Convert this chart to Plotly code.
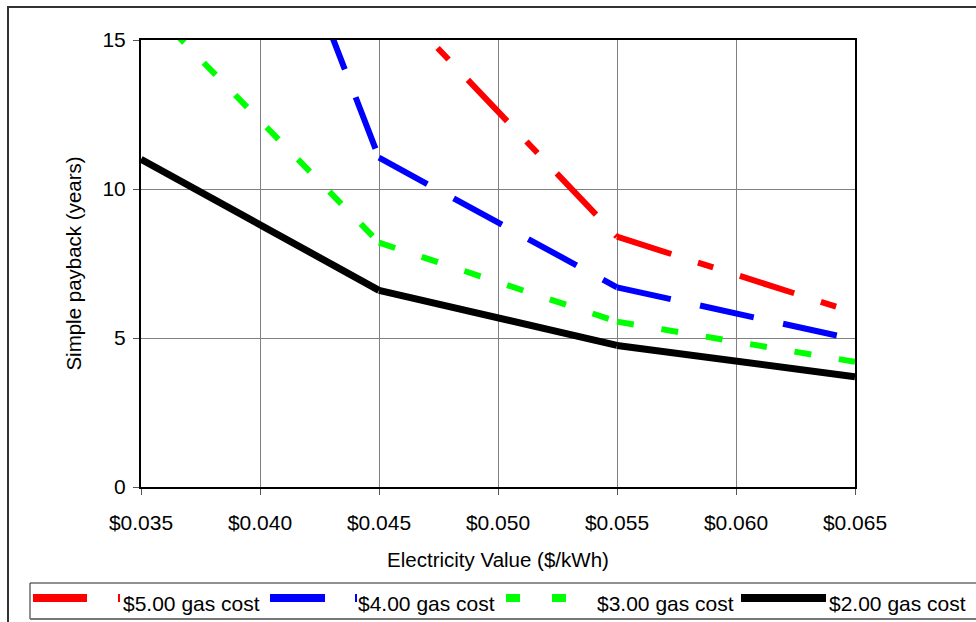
import plotly.graph_objects as go

# ---- data ----
electricity = [0.035, 0.045, 0.055, 0.065]
gas_5 = [200.0, 16.8, 8.4, 5.85]
gas_4 = [31.7, 11.05, 6.7, 4.95]
gas_3 = [16.4, 8.2, 5.55, 4.2]
gas_2 = [11.0, 6.6, 4.75, 3.7]
series_names = ["$5.00 gas cost", "$4.00 gas cost", "$3.00 gas cost", "$2.00 gas cost"]
x_ticks = [0.035, 0.040, 0.045, 0.050, 0.055, 0.060, 0.065]
x_tick_labels = ["$0.035", "$0.040", "$0.045", "$0.050", "$0.055", "$0.060", "$0.065"]
y_ticks = [0, 5, 10, 15]

series = [gas_5, gas_4, gas_3, gas_2]
colors = ["#FF0000", "#0000FF", "#00FF00", "#000000"]
dashes = ["57px,28px,16px,28px", "55px,30px", "17px,28px", "solid"]
widths = [6, 6, 6, 7]

W, H = 976, 622
L, R, T, B = 141, 855, 40, 487
pw, ph = R - L, B - T


def px(xp):
    return (xp - L) / pw


def py(yp):
    return (B - yp) / ph


fig = go.Figure()
for name, ys, c, d, w in zip(series_names, series, colors, dashes, widths):
    # each segment drawn separately so the dash pattern restarts at each vertex
    for i in range(len(electricity) - 1):
        fig.add_trace(go.Scatter(
            x=electricity[i:i + 2], y=ys[i:i + 2], mode="lines", name=name,
            legendgroup=name, showlegend=False,
            line=dict(color=c, width=w, dash=d), hoverinfo="skip",
        ))

font = dict(family="Liberation Sans, Arial, sans-serif", size=21, color="black")
title_font = dict(family="Liberation Sans, Arial, sans-serif", size=20.5, color="black")

shapes = [
    # outer chart border
    dict(type="rect", xref="paper", yref="paper",
         x0=px(8), x1=px(W + 20), y0=py(H + 20), y1=py(7),
         line=dict(color="#333333", width=2), fillcolor="rgba(0,0,0,0)",
         layer="below"),
    # legend box
    dict(type="rect", xref="paper", yref="paper",
         x0=px(30), x1=px(W + 20), y0=py(619), y1=py(583),
         line=dict(color="#222222", width=1), fillcolor="white",
         layer="below"),
    dict(type="line", xref="paper", yref="paper",
         x0=px(30), x1=px(W + 20), y0=py(619), y1=py(619),
         line=dict(color="#777777", width=2)),
]

# legend samples and labels (custom, single row like the reference)
legend_sample = [(33, 120), (270, 357), (506, 592), (741, 826)]
legend_dash = ["54px,31px,16px,28px", "55px,30px", "14px,32px", "solid"]
legend_text_x = [121, 356, 595, 827]
annotations = []
for (x0, x1), c, d, tx, name in zip(legend_sample, colors, legend_dash, legend_text_x, series_names):
    shapes.append(dict(type="line", xref="paper", yref="paper",
                       x0=px(x0), x1=px(x1), y0=py(598), y1=py(598),
                       line=dict(color=c, width=8, dash=d)))
    annotations.append(dict(xref="paper", yref="paper", x=px(tx), y=py(603),
                            xanchor="left", yanchor="middle", text=name,
                            showarrow=False, font=font))

fig.update_layout(
    width=W, height=H,
    margin=dict(l=L, r=W - R, t=T, b=H - B, pad=0),
    paper_bgcolor="white", plot_bgcolor="white",
    font=font,
    showlegend=False,
    xaxis=dict(
        range=[0.035, 0.065], tickvals=x_ticks, ticktext=x_tick_labels,
        showgrid=True, gridcolor="#808080", gridwidth=1,
        showline=True, linecolor="black", linewidth=2, mirror=True,
        ticks="outside", ticklen=6, tickcolor="#555555", tickwidth=1,
        ticklabelstandoff=10,
        zeroline=False, fixedrange=True,
        title=dict(text="Electricity Value ($/kWh)", font=title_font, standoff=19),
    ),
    yaxis=dict(
        range=[0, 15], tickvals=y_ticks,
        showgrid=True, gridcolor="#808080", gridwidth=1,
        showline=True, linecolor="black", linewidth=2, mirror=True,
        ticks="outside", ticklen=6, tickcolor="#555555", tickwidth=1,
        ticklabelstandoff=3,
        zeroline=False, fixedrange=True,
        title=dict(text="Simple payback (years)", font=title_font, standoff=15),
    ),
    shapes=shapes,
    annotations=annotations,
)

fig.write_html("out.html")
